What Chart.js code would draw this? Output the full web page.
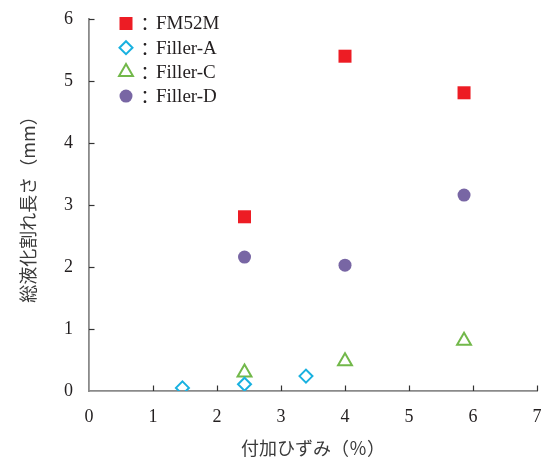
<!DOCTYPE html>
<html><head><meta charset="utf-8">
<script src="https://cdn.jsdelivr.net/npm/chart.js@4/dist/chart.umd.min.js"></script>
<style>html,body{margin:0;padding:0;background:#fff;}#wrap{width:547px;height:462px;}</style>
</head><body><div id="wrap"><canvas id="c" width="547" height="462"></canvas></div>
<script>
const seriesNames = ['FM52M', 'Filler-A', 'Filler-C', 'Filler-D'];
const fm52mX = [2.43, 4.0, 5.86];
const fm52mY = [2.81, 5.40, 4.81];
const fillerAX = [1.46, 2.43, 3.39];
const fillerAY = [0.05, 0.11, 0.24];
const fillerCX = [2.43, 4.0, 5.86];
const fillerCY = [0.30, 0.48, 0.81];
const fillerDX = [2.43, 4.0, 5.86];
const fillerDY = [2.16, 2.03, 3.16];
const xTicks = [0, 1, 2, 3, 4, 5, 6, 7];
const yTicks = [0, 1, 2, 3, 4, 5, 6];
const xTitle = '付加ひずみ（％）';
const yTitle = '総液化割れ長さ（mm）';

const pts = (xs, ys) => xs.map((x, i) => ({x: x, y: ys[i]}));
const serif = "'Liberation Serif', 'Times New Roman', serif";
const cjk = "'Noto Sans CJK JP', sans-serif";

const styles = [
  {pointStyle: 'rect', radius: 9.2, backgroundColor: '#ed1c24', borderColor: '#ed1c24', borderWidth: 0},
  {pointStyle: 'rectRot', radius: 6.5, backgroundColor: 'rgba(0,0,0,0)', borderColor: '#18b1e0', borderWidth: 2},
  {pointStyle: 'triangle', radius: 8, backgroundColor: 'rgba(0,0,0,0)', borderColor: '#72b84a', borderWidth: 2},
  {pointStyle: 'circle', radius: 6.5, backgroundColor: '#7866a4', borderColor: '#7866a4', borderWidth: 0}
];
const dataSets = [pts(fm52mX, fm52mY), pts(fillerAX, fillerAY), pts(fillerCX, fillerCY), pts(fillerDX, fillerDY)];

const datasets = seriesNames.map((n, i) => ({
  label: n,
  data: dataSets[i],
  showLine: false,
  pointStyle: styles[i].pointStyle,
  pointRadius: styles[i].radius,
  pointHoverRadius: styles[i].radius,
  pointBackgroundColor: styles[i].backgroundColor,
  pointBorderColor: styles[i].borderColor,
  pointBorderWidth: styles[i].borderWidth
}));

const inwardTicks = {
  id: 'inwardTicks',
  afterDraw(chart) {
    const ctx = chart.ctx;
    const xs = chart.scales.x, ys = chart.scales.y;
    const bottom = chart.chartArea.bottom, left = chart.chartArea.left;
    ctx.save();
    ctx.strokeStyle = '#333';
    ctx.lineWidth = 1.2;
    xTicks.forEach(v => {
      if (v === 0) return;
      const px = Math.round(xs.getPixelForValue(v)) + 0.5;
      ctx.beginPath(); ctx.moveTo(px, bottom); ctx.lineTo(px, bottom - 5.5); ctx.stroke();
    });
    yTicks.forEach(v => {
      if (v === 0) return;
      const py = Math.round(ys.getPixelForValue(v)) + 0.5;
      ctx.beginPath(); ctx.moveTo(left, py); ctx.lineTo(left + 5.5, py); ctx.stroke();
    });
    ctx.restore();
  }
};

const innerLegend = {
  id: 'innerLegend',
  afterDraw(chart) {
    const ctx = chart.ctx;
    const x0 = 126, y0 = 23.5, dy = 24.2;
    ctx.save();
    chart.data.datasets.forEach((ds, i) => {
      const y = y0 + i * dy;
      ctx.fillStyle = ds.pointBackgroundColor;
      ctx.strokeStyle = ds.pointBorderColor;
      ctx.lineWidth = ds.pointBorderWidth;
      Chart.helpers.drawPoint(ctx, {pointStyle: ds.pointStyle, radius: ds.pointRadius, borderWidth: ds.pointBorderWidth, rotation: 0}, x0, y);
      ctx.fillStyle = '#231f20';
      ctx.textBaseline = 'middle';
      ctx.textAlign = 'left';
      ctx.font = "18px 'Noto Sans CJK JP'";
      ctx.fillText('：', 136, y + 1);
      ctx.font = '19px ' + serif;
      ctx.fillText(ds.label, 156, y + 1);
    });
    ctx.restore();
  }
};

new Chart(document.getElementById('c'), {
  type: 'scatter',
  data: {datasets: datasets},
  plugins: [inwardTicks, innerLegend],
  options: {
    responsive: false,
    animation: false,
    events: [],
    layout: {padding: {top: 19, right: 3, left: 0, bottom: 0}},
    plugins: {legend: {display: false}, tooltip: {enabled: false}},
    scales: {
      x: {
        type: 'linear', min: 0, max: 7,
        afterBuildTicks(s) { s.ticks = xTicks.map(v => ({value: v})); },
        afterFit(s) { s.height = 71; s.paddingRight = 0; s.paddingLeft = 0; },
        grid: {display: false},
        border: {display: true, color: '#8a8a8a', width: 1.8},
        ticks: {color: '#231f20', padding: 7, font: {family: serif, size: 18}, maxRotation: 0, autoSkip: false},
        title: {display: true, text: xTitle, color: '#3a3a3a', font: {family: cjk, size: 18}, padding: {top: 0, bottom: 3}}
      },
      y: {
        type: 'linear', min: 0, max: 6,
        afterBuildTicks(s) { s.ticks = yTicks.map(v => ({value: v})); },
        afterFit(s) { s.width = 89; s.paddingTop = 0; s.paddingBottom = 0; },
        grid: {display: false},
        border: {display: true, color: '#8a8a8a', width: 1.8},
        ticks: {color: '#231f20', padding: 8, font: {family: serif, size: 18}, autoSkip: false},
        title: {display: true, text: yTitle, color: '#3a3a3a', font: {family: cjk, size: 18}, padding: {top: 17, bottom: 0}}
      }
    }
  }
});
</script></body></html>
